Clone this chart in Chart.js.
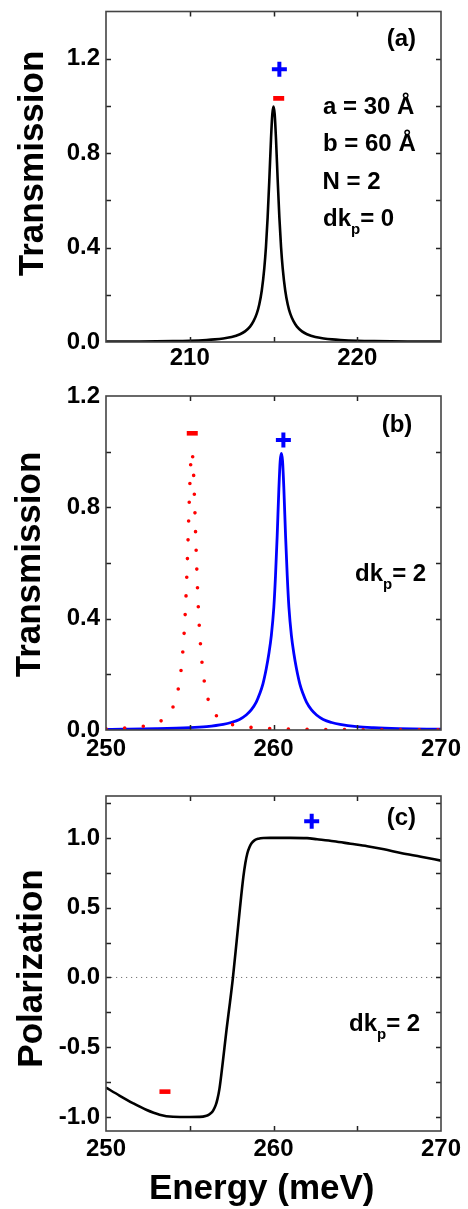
<!DOCTYPE html>
<html><head><meta charset="utf-8">
<script src="https://cdn.jsdelivr.net/npm/chart.js@4.4.1/dist/chart.umd.min.js"></script>
<style>
html,body{margin:0;padding:0;background:#fff;}
body{width:468px;height:1209px;position:relative;overflow:hidden;}
canvas{position:absolute;left:0;}
</style></head><body>
<canvas id="ca" width="468" height="380" style="top:0px"></canvas>
<canvas id="cb" width="468" height="395" style="top:375px"></canvas>
<canvas id="cc" width="468" height="439" style="top:770px"></canvas>
<script>
// ---------- data ----------
// Panel (a): dk_p = 0
const energyA = [205,207,209,210,211,211.5,212,212.5,213,213.3,213.6,213.8,214,214.15,214.3,214.45,214.55,214.65,214.75,214.85,214.93,215,215.07,215.15,215.25,215.35,215.45,215.55,215.7,215.85,216,216.2,216.4,216.7,217,217.5,218,218.5,219,220,221,223,225];
const transA = [0.0014,0.0021,0.0038,0.0054,0.0085,0.011,0.015,0.021,0.033,0.045,0.065,0.087,0.12,0.159,0.218,0.312,0.403,0.528,0.686,0.859,0.965,0.997,0.965,0.859,0.686,0.528,0.403,0.312,0.218,0.159,0.12,0.087,0.065,0.045,0.033,0.021,0.015,0.011,0.0085,0.0054,0.0038,0.0021,0.0014];

// Panel (b): dk_p = 2, "+" (blue solid) and "-" (red dotted)
const energyBplus = [250,251,253,255,256,257,257.47,257.97,258.37,258.67,258.97,259.17,259.37,259.57,259.72,259.87,260.02,260.12,260.22,260.32,260.40,260.47,260.54,260.62,260.72,260.82,260.92,261.07,261.22,261.37,261.57,261.77,261.97,262.27,262.57,262.97,263.47,263.97,264.97,265.97,267.47,270];
const transBplus = [0.0023,0.0028,0.0045,0.0083,0.0124,0.0203,0.027,0.038,0.054,0.072,0.1,0.129,0.166,0.221,0.273,0.339,0.441,0.554,0.698,0.865,0.967,0.994,0.967,0.865,0.698,0.554,0.441,0.339,0.273,0.221,0.166,0.129,0.1,0.072,0.054,0.038,0.027,0.02,0.012,0.0082,0.0051,0.0027];
const energyBminus = [250,251.13,252.13,252.63,253.13,253.53,253.83,254.03,254.23,254.38,254.53,254.68,254.78,254.88,254.98,255.06,255.13,255.2,255.28,255.38,255.48,255.58,255.73,255.88,256.03,256.23,256.43,256.73,257.13,257.63,258.13,259.13,260.13,262.13,265.13,270];
const transBminus = [0.0044,0.0072,0.0127,0.018,0.028,0.043,0.064,0.087,0.125,0.170,0.243,0.363,0.485,0.649,0.837,0.959,1.0,0.959,0.837,0.649,0.485,0.363,0.243,0.170,0.125,0.087,0.064,0.043,0.028,0.018,0.0127,0.0072,0.0046,0.0024,0.0012,0.0005];

// Panel (c): polarization, dk_p = 2
const energyC = [250,250.8,251.6,252.4,253.2,254.0,255.0,255.6,256.0,256.15,256.3,256.42,256.55,256.66,256.77,256.87,256.97,257.2,257.4,257.57,257.8,258.0,258.2,258.32,258.44,258.57,258.7,258.88,259.1,259.4,259.8,261.0,262.0,262.6,263.6,264.6,265.6,266.6,267.6,268.8,270];
const polC = [-0.789,-0.846,-0.9,-0.948,-0.983,-0.998,-1.0,-0.999,-0.99,-0.982,-0.968,-0.948,-0.915,-0.868,-0.8,-0.71,-0.61,-0.37,-0.18,-0.01,0.26,0.5,0.72,0.82,0.89,0.935,0.963,0.984,0.994,0.999,1.0,1.0,0.998,0.99,0.976,0.958,0.94,0.918,0.892,0.865,0.837];
const zeroLineX = [250,270];
const zeroLineY = [0,0];

// "+" / "-" spin markers (energy, value)
const plusA = [[215.35,1.155]];
const minusA = [[215.31,1.032]];
const plusB = [[260.59,1.042]];
const minusB = [[255.15,1.066]];
const plusC = [[262.28,1.119]];
const minusC = [[253.52,-0.818]];

// ticks
const xTicksA = [205,210,215,220,225];
const xLabelsA = [210,220];
const yTicksA = [0,0.2,0.4,0.6,0.8,1.0,1.2,1.4];
const yLabelsA = [0,0.4,0.8,1.2];
const xTicksB = [250,255,260,265,270];
const xLabelsB = [250,260,270];
const yTicksB = [0,0.2,0.4,0.6,0.8,1.0,1.2];
const yLabelsB = [0,0.4,0.8,1.2];
const yTicksC = [-1,-0.75,-0.5,-0.25,0,0.25,0.5,0.75,1,1.25];
const yLabelsC = [-1,-0.5,0,0.5,1];

// texts
const titleTrans = 'Transmission';
const titlePol = 'Polarization';
const titleEnergy = 'Energy (meV)';

// ---------- helpers ----------
const FONT = '"Liberation Sans", Arial, Helvetica, sans-serif';
const pts = (xs, ys) => xs.map((x, i) => ({x: x, y: ys[i]}));
const pairs = arr => arr.map(p => ({x: p[0], y: p[1]}));
const has = (list, v) => list.some(l => Math.abs(l - v) < 1e-6);

function lineDs(data, color, width, extra) {
  return Object.assign({data: data, showLine: true, pointRadius: 0, borderColor: color,
    borderWidth: width, cubicInterpolationMode: 'monotone', fill: false}, extra || {});
}
function plusDs(data) {
  return {data: data, showLine: false, pointStyle: 'cross', pointRadius: 7.5,
    pointBorderWidth: 4, pointBorderColor: '#0000ff', pointBackgroundColor: '#0000ff'};
}
function minusDs(data) {
  return {data: data, showLine: false, pointStyle: 'line', pointRadius: 5.5,
    pointBorderWidth: 4.6, pointBorderColor: '#ff0000', pointBackgroundColor: '#ff0000'};
}

function drawRich(ctx, x, y, parts) {
  let cx = x;
  parts.forEach(p => {
    ctx.font = 'bold ' + p.size + 'px ' + FONT;
    ctx.fillText(p.t, cx, y + (p.dy || 0));
    cx += ctx.measureText(p.t).width;
  });
}

function makeChart(id, c) {
  const decor = {
    id: 'decor' + id,
    afterDraw(chart) {
      const ctx = chart.ctx, a = chart.chartArea;
      const xs = chart.scales.x, ys = chart.scales.y;
      ctx.save();
      // ticks (inward, all four sides)
      ctx.strokeStyle = '#222';
      ctx.lineWidth = 1.5;
      ctx.beginPath();
      c.xTicks.forEach(v => {
        if (v <= c.xMin || v >= c.xMax) return;
        const px = Math.round(xs.getPixelForValue(v)) + 0.5;
        ctx.moveTo(px, a.bottom); ctx.lineTo(px, a.bottom - 5);
        ctx.moveTo(px, a.top); ctx.lineTo(px, a.top + 5);
      });
      c.yTicks.forEach(v => {
        if (v <= c.yMin || v >= c.yMax) return;
        const py = Math.round(ys.getPixelForValue(v)) + 0.5;
        ctx.moveTo(a.left, py); ctx.lineTo(a.left + 5, py);
        ctx.moveTo(a.right, py); ctx.lineTo(a.right - 5, py);
      });
      ctx.stroke();
      // frame
      ctx.strokeStyle = '#444';
      ctx.lineWidth = 1.6;
      ctx.strokeRect(a.left, a.top, a.right - a.left, a.bottom - a.top);
      // texts
      ctx.fillStyle = '#000';
      ctx.textBaseline = 'alphabetic';
      ctx.textAlign = 'left';
      c.texts.forEach(t => drawRich(ctx, t.x, t.y, t.parts));
      // rotated y title
      ctx.font = 'bold 35px ' + FONT;
      ctx.save();
      ctx.translate(c.yTitle.x, c.yTitle.y);
      ctx.rotate(-Math.PI / 2);
      ctx.textAlign = 'center';
      ctx.fillText(c.yTitle.text, 0, 0);
      ctx.restore();
      if (c.xTitle) {
        ctx.textAlign = 'center';
        ctx.font = 'bold 35px ' + FONT;
        ctx.fillText(c.xTitle.text, c.xTitle.x, c.xTitle.y);
      }
      ctx.restore();
    }
  };
  const tickFont = {family: FONT, size: 24, weight: 'bold'};
  return new Chart(document.getElementById(id), {
    type: 'scatter',
    data: {datasets: c.datasets},
    plugins: [decor],
    options: {
      responsive: false, maintainAspectRatio: false, animation: false, devicePixelRatio: 1,
      events: [],
      layout: {padding: {top: c.padTop, right: 27, bottom: 0, left: 0}},
      plugins: {legend: {display: false}, tooltip: {enabled: false}},
      scales: {
        x: {
          type: 'linear', min: c.xMin, max: c.xMax,
          afterBuildTicks: s => { s.ticks = c.xTicks.map(v => ({value: v})); },
          afterFit: s => { s.height = c.xH; s.paddingLeft = 0; s.paddingRight = 0; },
          grid: {display: false, drawTicks: false, tickLength: 0}, border: {display: false},
          ticks: {autoSkip: false, maxRotation: 0, minRotation: 0, padding: c.xPad, color: '#000', font: tickFont,
            callback: v => has(c.xLabels, v) ? String(Math.round(v)) : ''}
        },
        y: {
          type: 'linear', min: c.yMin, max: c.yMax,
          afterBuildTicks: s => { s.ticks = c.yTicks.map(v => ({value: v})); },
          afterFit: s => { s.width = 106; s.paddingTop = 0; s.paddingBottom = 0; },
          grid: {display: false, drawTicks: false, tickLength: 0}, border: {display: false},
          ticks: {autoSkip: false, padding: 6, color: '#000', font: tickFont,
            callback: v => has(c.yLabels, v) ? Number(v).toFixed(1) : ''}
        }
      }
    }
  });
}

const dk = (val) => [{t: 'dk', size: 24}, {t: 'p', size: 15, dy: 8.5}, {t: '= ' + val, size: 24}];

// Panel (a)
makeChart('ca', {
  xMin: 205, xMax: 225, yMin: 0, yMax: 1.4,
  xTicks: xTicksA, xLabels: xLabelsA, yTicks: yTicksA, yLabels: yLabelsA,
  padTop: 7, xH: 38, xPad: 2,
  datasets: [
    plusDs(pairs(plusA)), minusDs(pairs(minusA)),
    lineDs(pts(energyA, transA), '#000000', 2.6)
  ],
  texts: [
    {x: 386.7, y: 45.5, parts: [{t: '(a)', size: 24}]},
    {x: 323, y: 114.3, parts: [{t: 'a = 30 Å', size: 24}]},
    {x: 323, y: 150.5, parts: [{t: 'b = 60 Å', size: 24}]},
    {x: 322.5, y: 188.5, parts: [{t: 'N = 2', size: 24}]},
    {x: 323, y: 225.5, parts: dk('0')}
  ],
  yTitle: {text: titleTrans, x: 43.3, y: 163.5}
});

// Panel (b)
makeChart('cb', {
  xMin: 250, xMax: 270, yMin: 0, yMax: 1.2,
  xTicks: xTicksB, xLabels: xLabelsB, yTicks: yTicksB, yLabels: yLabelsB,
  padTop: 21, xH: 40, xPad: 4.5,
  datasets: [
    plusDs(pairs(plusB)), minusDs(pairs(minusB)),
    lineDs(pts(energyBminus, transBminus), '#ff0000', 3.6, {borderDash: [0, 18.7], borderCapStyle: 'round'}),
    lineDs(pts(energyBplus, transBplus), '#0000ff', 2.8)
  ],
  texts: [
    {x: 381.7, y: 57.3, parts: [{t: '(b)', size: 24}]},
    {x: 355, y: 205.7, parts: dk('2')}
  ],
  yTitle: {text: titleTrans, x: 39.5, y: 189.5}
});

// Panel (c)
makeChart('cc', {
  xMin: 250, xMax: 270, yMin: -1.1, yMax: 1.3,
  xTicks: xTicksB, xLabels: xLabelsB, yTicks: yTicksC, yLabels: yLabelsC,
  padTop: 26, xH: 78, xPad: 3.6,
  datasets: [
    plusDs(pairs(plusC)), minusDs(pairs(minusC)),
    lineDs(pts(energyC, polC), '#000000', 2.6),
    lineDs(pts(zeroLineX, zeroLineY), '#777777', 1, {borderDash: [1.2, 3.8], cubicInterpolationMode: 'default', tension: 0})
  ],
  texts: [
    {x: 386.7, y: 55, parts: [{t: '(c)', size: 24}]},
    {x: 349, y: 260.7, parts: dk('2')}
  ],
  yTitle: {text: titlePol, x: 41.5, y: 198.5},
  xTitle: {text: titleEnergy, x: 261.7, y: 429}
});
</script>
</body></html>
